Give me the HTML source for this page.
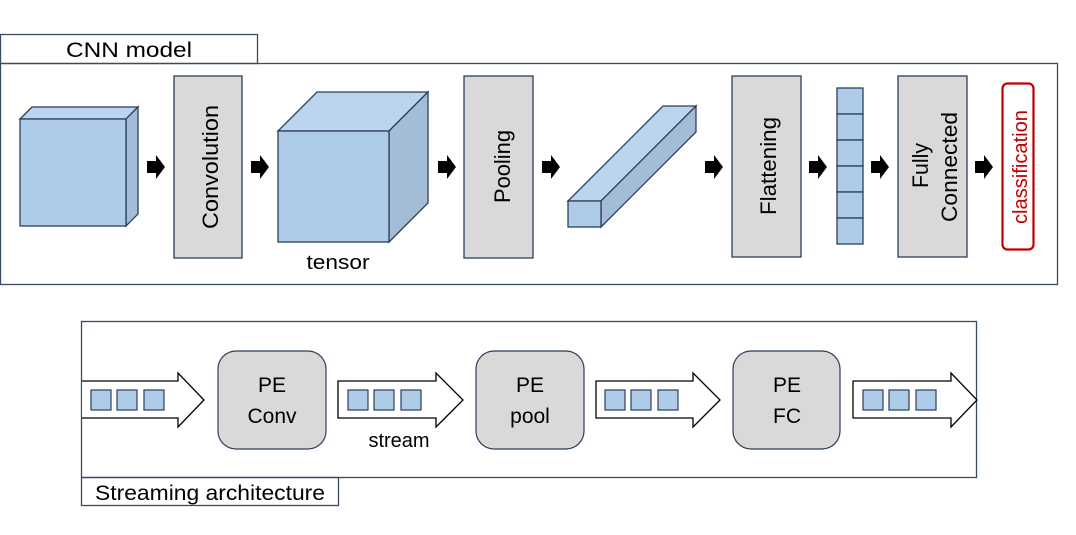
<!DOCTYPE html>
<html><head><meta charset="utf-8"><style>
html,body{margin:0;padding:0;background:#fff;}
svg{display:block;}
text{font-family:"Liberation Sans",sans-serif;}
</style></head><body>
<svg width="1076" height="535" viewBox="0 0 1076 535" xmlns="http://www.w3.org/2000/svg">
<defs>
<g id="ba"><path d="M0,-6 H9 V-12 L18,0 L9,12 V6 H0 Z" fill="#000"/></g>
</defs>
<g stroke="#3b4a63" stroke-width="1.3" fill="none">
<rect x="0.5" y="34.5" width="257" height="29" fill="#fff"/>
<rect x="0.5" y="63.5" width="1057" height="221"/>
<rect x="81.5" y="321.5" width="895" height="156"/>
<rect x="81.5" y="477.5" width="257" height="28"/>
</g>
<text x="66" y="57" font-size="21" textLength="126" lengthAdjust="spacingAndGlyphs">CNN model</text>
<text x="95" y="500" font-size="21" textLength="230" lengthAdjust="spacingAndGlyphs">Streaming architecture</text>

<g stroke="#2c3e5c" stroke-width="1.3">
<path d="M20,119 L32,107 L138,107 L126,119 Z" fill="#bcd5ee"/>
<path d="M126,119 L138,107 L138,214 L126,226 Z" fill="#a3bdd6"/>
<rect x="20" y="119" width="106" height="107" fill="#aecbe8"/>
<path d="M278,131 L317,92 L428,92 L389,131 Z" fill="#bcd5ee"/>
<path d="M389,131 L428,92 L428,203 L389,242 Z" fill="#a3bdd6"/>
<rect x="278" y="131" width="111" height="111" fill="#aecbe8"/>
<path d="M568,201 L663,106 L696,106 L601,201 Z" fill="#bcd5ee"/>
<path d="M601,201 L696,106 L696,132 L601,227 Z" fill="#a3bdd6"/>
<rect x="568" y="201" width="33" height="26" fill="#aecbe8"/>
<rect x="837" y="88" width="26" height="26" fill="#aecbe8"/>
<rect x="837" y="114" width="26" height="26" fill="#aecbe8"/>
<rect x="837" y="140" width="26" height="26" fill="#aecbe8"/>
<rect x="837" y="166" width="26" height="26" fill="#aecbe8"/>
<rect x="837" y="192" width="26" height="26" fill="#aecbe8"/>
<rect x="837" y="218" width="26" height="26" fill="#aecbe8"/>
<rect x="174" y="76" width="68" height="182" fill="#d9d9d9"/>
<rect x="464" y="76" width="69" height="182" fill="#d9d9d9"/>
<rect x="732" y="76" width="69" height="181" fill="#d9d9d9"/>
<rect x="898" y="76" width="69" height="181" fill="#d9d9d9"/>
</g>
<rect x="1002.5" y="83.5" width="31" height="166" rx="5" fill="#fff" stroke="#c00000" stroke-width="2.2"/>

<g font-size="22">
<text transform="translate(218,229) rotate(-90)" textLength="124" lengthAdjust="spacingAndGlyphs">Convolution</text>
<text transform="translate(510,203) rotate(-90)" textLength="73" lengthAdjust="spacingAndGlyphs">Pooling</text>
<text transform="translate(776,215) rotate(-90)" textLength="98" lengthAdjust="spacingAndGlyphs">Flattening</text>
<text transform="translate(928,188) rotate(-90)" textLength="45" lengthAdjust="spacingAndGlyphs">Fully</text>
<text transform="translate(957,222) rotate(-90)" textLength="110" lengthAdjust="spacingAndGlyphs">Connected</text>
<text transform="translate(1027,224) rotate(-90)" fill="#c00000" font-size="20" textLength="114" lengthAdjust="spacingAndGlyphs">classification</text>
</g>
<text x="338" y="269" font-size="20" text-anchor="middle" textLength="63" lengthAdjust="spacingAndGlyphs">tensor</text>

<use href="#ba" x="147" y="167"/>
<use href="#ba" x="251" y="167"/>
<use href="#ba" x="438" y="167"/>
<use href="#ba" x="542" y="167"/>
<use href="#ba" x="705" y="167"/>
<use href="#ba" x="809" y="167"/>
<use href="#ba" x="871" y="167"/>
<use href="#ba" x="975" y="167"/>

<g stroke="#000" stroke-width="1.3" fill="#fff">
<path d="M82,381 H178 V373 L204,400 L178,427 V418 H82"/>
<path d="M338,381 H436 V373 L463,400 L436,427 V418 H338 Z"/>
<path d="M596,381 H693 V373 L720,400 L693,427 V418 H596 Z"/>
<path d="M853,381 H951 V373 L977,400 L951,427 V418 H853 Z"/>
</g>
<g fill="#aecbe8" stroke="#2c3e5c" stroke-width="1.2">
<rect x="91" y="390" width="20" height="20"/><rect x="117" y="390" width="20" height="20"/><rect x="144" y="390" width="20" height="20"/>
<rect x="348" y="390" width="20" height="20"/><rect x="374" y="390" width="20" height="20"/><rect x="401" y="390" width="20" height="20"/>
<rect x="605" y="390" width="20" height="20"/><rect x="631" y="390" width="20" height="20"/><rect x="658" y="390" width="20" height="20"/>
<rect x="863" y="390" width="20" height="20"/><rect x="889" y="390" width="20" height="20"/><rect x="916" y="390" width="20" height="20"/>
<rect x="218" y="351" width="108" height="98" rx="18" fill="#d9d9d9"/>
<rect x="476" y="351" width="108" height="98" rx="18" fill="#d9d9d9"/>
<rect x="733" y="351" width="107" height="98" rx="18" fill="#d9d9d9"/>
</g>
<g font-size="21" text-anchor="middle">
<text x="272" y="392">PE</text><text x="272" y="423">Conv</text>
<text x="530" y="392">PE</text><text x="530" y="423">pool</text>
<text x="787" y="392">PE</text><text x="787" y="423">FC</text>
</g>
<text x="399" y="447" font-size="20" text-anchor="middle">stream</text>
</svg>
</body></html>
